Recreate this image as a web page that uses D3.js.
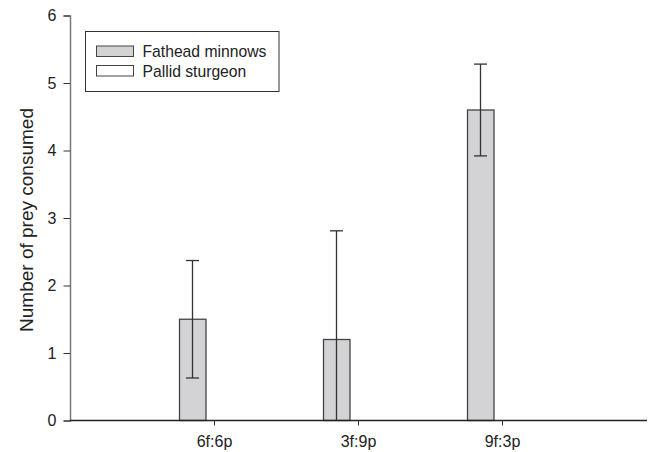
<!DOCTYPE html>
<html>
<head>
<meta charset="utf-8">
<script src="https://cdn.jsdelivr.net/npm/d3@7"></script>
<style>
  body { margin: 0; background: #fff; }
  text { font-family: "Liberation Sans", Arial, sans-serif; }
</style>
</head>
<body>
<div id="chart"></div>
<script>
// data
var categories = ["6f:6p", "3f:9p", "9f:3p"];
var fathead = [1.5, 1.2, 4.6];
var fatheadErr = [0.87, 1.61, 0.68];
var pallid = [0, 0, 0];
var seriesNames = ["Fathead minnows", "Pallid sturgeon"];
var yTicks = [0, 1, 2, 3, 4, 5, 6];

var W = 650, H = 452;

var svg = d3.select("#chart")
    .append("svg")
    .attr("width", W)
    .attr("height", H);

// x is a linear position scale, categories sit at 1, 2, 3
var x = d3.scaleLinear()
    .domain([0, 4])
    .range([70, 646]);

var y = d3.scaleLinear()
    .domain([0, 6])
    .range([420.5, 15.5]);

var barW = 26.5;

// Y axis
var yAxis = svg.append("g")
    .attr("transform", "translate(" + x(0) + ",0)")
    .call(d3.axisLeft(y).tickValues(yTicks).tickSize(6.5).tickPadding(7).tickFormat(d3.format("d")));
yAxis.select(".domain").attr("stroke", "#777").attr("stroke-width", 1.5);
yAxis.selectAll(".tick line").attr("stroke", "#333");
yAxis.selectAll(".tick text")
    .attr("font-size", 16)
    .attr("fill", "#222");

// bars (fathead minnows)
svg.selectAll(".bar-f")
    .data(fathead)
    .enter().append("rect")
    .attr("class", "bar-f")
    .attr("x", function(d, i) { return x(i + 1) - 34.5; })
    .attr("y", function(d) { return y(d); })
    .attr("width", barW)
    .attr("height", function(d) { return y(0) - y(d); })
    .attr("fill", "#d3d3d5")
    .attr("stroke", "#444")
    .attr("stroke-width", 1.3);

// pallid sturgeon bars (zero height)
svg.selectAll(".bar-p")
    .data(pallid)
    .enter().append("rect")
    .attr("class", "bar-p")
    .attr("x", function(d, i) { return x(i + 1) - 8; })
    .attr("y", function(d) { return y(d); })
    .attr("width", barW)
    .attr("height", function(d) { return y(0) - y(d); })
    .attr("fill", "#fff")
    .attr("stroke", "#444")
    .attr("stroke-width", 1);

// error bars
var errData = fathead.map(function(v, i) {
    return { pos: i + 1, hi: v + fatheadErr[i], lo: v - fatheadErr[i] };
});

svg.selectAll(".err-v")
    .data(errData)
    .enter().append("line")
    .attr("x1", function(d) { return x(d.pos) - 21.5; })
    .attr("x2", function(d) { return x(d.pos) - 21.5; })
    .attr("y1", function(d) { return y(d.hi); })
    .attr("y2", function(d) { return y(Math.max(0, d.lo)); })
    .attr("stroke", "#333")
    .attr("stroke-width", 1.3);

svg.selectAll(".cap-hi")
    .data(errData)
    .enter().append("line")
    .attr("x1", function(d) { return x(d.pos) - 28; })
    .attr("x2", function(d) { return x(d.pos) - 15; })
    .attr("y1", function(d) { return y(d.hi); })
    .attr("y2", function(d) { return y(d.hi); })
    .attr("stroke", "#333")
    .attr("stroke-width", 1.3);

svg.selectAll(".cap-lo")
    .data(errData.filter(function(d) { return d.lo > 0; }))
    .enter().append("line")
    .attr("x1", function(d) { return x(d.pos) - 28; })
    .attr("x2", function(d) { return x(d.pos) - 15; })
    .attr("y1", function(d) { return y(d.lo); })
    .attr("y2", function(d) { return y(d.lo); })
    .attr("stroke", "#333")
    .attr("stroke-width", 1.3);

// X axis
var xAxis = svg.append("g")
    .attr("transform", "translate(0," + y(0) + ")")
    .call(d3.axisBottom(x)
        .tickValues([1, 2, 3])
        .tickSize(5)
        .tickPadding(10)
        .tickFormat(function(d) { return categories[d - 1]; }));
xAxis.select(".domain").attr("d", "M" + x(0) + ",0H" + (x(4) + 1)).attr("stroke", "#222").attr("stroke-width", 1.5);
xAxis.selectAll(".tick line").attr("stroke", "#333");
xAxis.selectAll(".tick text")
    .attr("font-size", 16)
    .attr("fill", "#222");

// y label
svg.append("text")
    .attr("transform", "translate(33,220) rotate(-90)")
    .attr("text-anchor", "middle")
    .attr("font-size", 19)
    .attr("fill", "#222")
    .text("Number of prey consumed");

// legend
var lg = svg.append("g");
lg.append("rect")
    .attr("x", 85.5).attr("y", 31.5)
    .attr("width", 193.5).attr("height", 60)
    .attr("fill", "#fff")
    .attr("stroke", "#333")
    .attr("stroke-width", 1);

var colors = ["#d3d3d5", "#fff"];
seriesNames.forEach(function(name, i) {
    lg.append("rect")
        .attr("x", 96.5).attr("y", 46 + i * 19.5)
        .attr("width", 37).attr("height", 10.5)
        .attr("fill", colors[i])
        .attr("stroke", "#444")
        .attr("stroke-width", 1);
    lg.append("text")
        .attr("x", 142.5).attr("y", 57 + i * 19.5)
        .attr("font-size", 15.7)
        .attr("fill", "#222")
        .text(name);
});
</script>
</body>
</html>
